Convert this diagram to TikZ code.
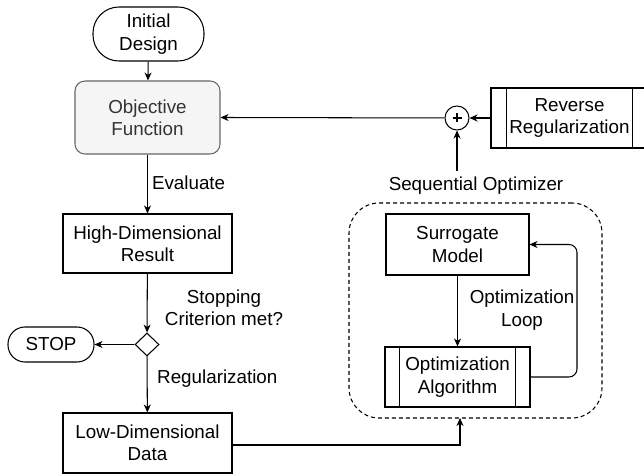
\documentclass[tikz,border=0pt]{standalone}
\usepackage{fontspec}
\setmainfont{Liberation Sans}
\usetikzlibrary{shapes.geometric,arrows.meta,calc}
\definecolor{objfill}{HTML}{F5F5F5}
\definecolor{objdraw}{HTML}{666666}
\definecolor{objtext}{HTML}{333333}
\begin{document}
\begin{tikzpicture}[x=1bp,y=-1bp,
  every node/.style={font=\fontsize{18.8bp}{22.3bp}\selectfont, align=center, inner sep=0pt},
  lw/.style={line width=1.05bp},
  arr/.style={lw, -{Stealth[length=8bp,width=7bp,inset=2.5bp]}}
]
\clip (0,0) rectangle (644,475);

% nodes
\node[draw, lw, rounded corners=26bp, minimum width=111bp, minimum height=54bp] (init) at (148.5,34) {Initial\\Design};
\node[draw=objdraw, fill=objfill, text=objtext, lw, rounded corners=10bp, minimum width=145bp, minimum height=73bp] (obj) at (147.5,117.5) {Objective\\Function};
\node[draw, lw, minimum width=169bp, minimum height=59bp] (high) at (147.5,243.5) {High-Dimensional\\Result};
\node[draw, lw, diamond, minimum width=24bp, minimum height=23bp] (dia) at (147,344.5) {};
\node[draw, lw, rounded corners=17bp, minimum width=86bp, minimum height=35bp] (stop) at (51,344.5) {STOP};
\node[draw, lw, minimum width=169bp, minimum height=60bp] (low) at (147.5,443) {Low-Dimensional\\Data};

\node[draw, lw, circle, minimum size=24bp] (plus) at (457,118) {};
\draw[lw] ($(plus)+(-4.5,0)$) -- ($(plus)+(4.5,0)$) ($(plus)+(0,-4.5)$) -- ($(plus)+(0,4.5)$);
\node[draw, lw, minimum width=157bp, minimum height=60bp] (rev) at (569.5,118) {Reverse\\Regularization};
\draw[lw] ($(rev.north west)+(16,0)$) -- ($(rev.south west)+(16,0)$)
          ($(rev.north east)+(-16,0)$) -- ($(rev.south east)+(-16,0)$);

\node (seqlab) at (476,186) {Sequential Optimizer};
\node[draw, lw, dash pattern=on 4bp off 3bp, rounded corners=30bp, minimum width=253bp, minimum height=215bp] (seq) at (475.5,310.5) {};
\node[draw, lw, minimum width=143bp, minimum height=61bp] (surr) at (457.5,244.5) {Surrogate\\Model};
\node[draw, lw, minimum width=145bp, minimum height=60bp] (alg) at (457.5,377) {Optimization\\Algorithm};
\draw[lw] ($(alg.north west)+(15,0)$) -- ($(alg.south west)+(15,0)$)
          ($(alg.north east)+(-15,0)$) -- ($(alg.south east)+(-15,0)$);
\coordinate (seqin) at (460,418);
\coordinate (loopc) at (577,310);

% connectors
\draw[arr] (init) -- (obj);
\draw[arr] (plus) -- (obj.east);
\draw[arr] (rev) -- (plus);
\draw[arr] (seqlab.north -| plus) ++(0,-6) -- (plus);
\draw[arr] (obj) -- node[right=4bp, pos=0.48] {Evaluate} (high);
\draw[arr] (high) -- (dia);
\node at (224,308) {Stopping\\Criterion met?};
\draw[arr] (dia) -- (stop);
\draw[arr] (dia) -- (low);
\node[anchor=west] at (157,379) {Regularization};
\draw[arr] (low.east |- 0,445) -| (seqin);
\draw[arr] (surr) -- (alg);
\node at (522,310) {Optimization\\Loop};
\draw[arr, rounded corners=8bp] (alg.east) -| (loopc) |- (surr.east);
\end{tikzpicture}
\end{document}
